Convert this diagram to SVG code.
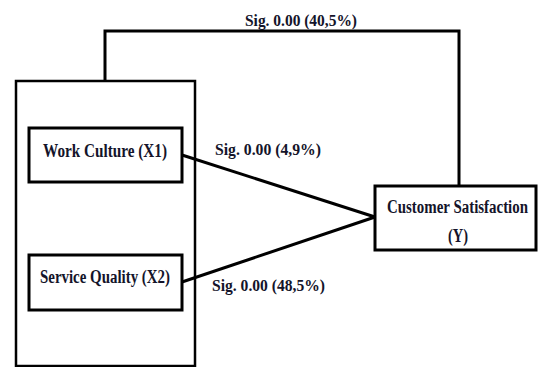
<svg xmlns="http://www.w3.org/2000/svg" width="539" height="367" viewBox="0 0 539 367">
<style>
.box{fill:#fff;stroke:#000;stroke-width:3}
.outer{fill:none;stroke:#000;stroke-width:2.5}
.con{fill:none;stroke:#000;stroke-width:3}
text{font-family:"Liberation Serif","Times New Roman",serif;font-weight:bold;font-size:18px;fill:#14142a}
.lbl{font-size:17px}
</style>
<rect width="539" height="367" fill="#fff"/>
<g id="group-x">
<rect class="outer" x="16" y="81" width="179" height="285"/>
</g>
<g id="connectors">
<polyline class="con" points="105,81 105,31 459,31 459,186"/>
<line class="con" x1="182" y1="155" x2="375" y2="217"/>
<line class="con" x1="182" y1="282" x2="375" y2="217"/>
<text class="lbl" x="245" y="26" textLength="112" lengthAdjust="spacingAndGlyphs">Sig. 0.00 (40,5%)</text>
<text class="lbl" x="215" y="155" textLength="106" lengthAdjust="spacingAndGlyphs">Sig. 0.00 (4,9%)</text>
<text class="lbl" x="212" y="291" textLength="113" lengthAdjust="spacingAndGlyphs">Sig. 0.00 (48,5%)</text>
</g>
<g id="work-culture">
<rect class="box" x="29" y="128" width="153" height="54"/>
<text x="43" y="157" textLength="124" lengthAdjust="spacingAndGlyphs">Work Culture (X1)</text>
</g>
<g id="service-quality">
<rect class="box" x="29" y="255" width="153" height="55"/>
<text x="40" y="283" textLength="130" lengthAdjust="spacingAndGlyphs">Service Quality (X2)</text>
</g>
<g id="customer-satisfaction">
<rect class="box" x="375" y="186" width="161" height="64"/>
<text x="387" y="213" textLength="141" lengthAdjust="spacingAndGlyphs">Customer Satisfaction</text>
<text x="448" y="242" textLength="20" lengthAdjust="spacingAndGlyphs">(Y)</text>
</g>
</svg>
